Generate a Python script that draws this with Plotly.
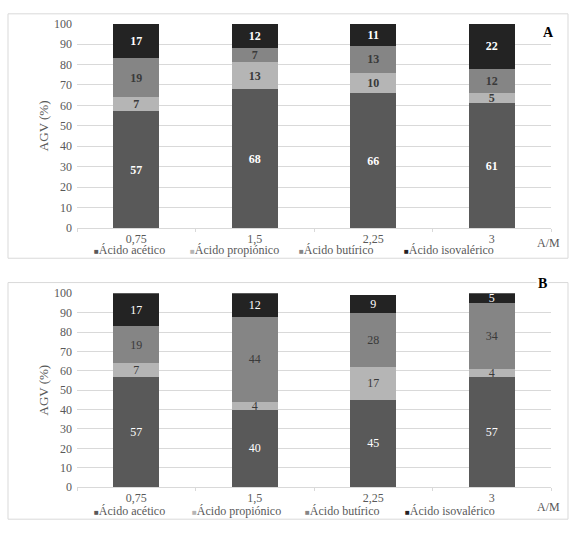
## ----------- imports ----------- ##
import plotly.graph_objects as go


## ----------- data ----------- ##
CATEGORIES = ["0,75", "1,5", "2,25", "3"]
SERIES = ["Ácido acético", "Ácido propiónico", "Ácido butírico", "Ácido isovalérico"]

A_ACETICO = [57, 68, 66, 61]
A_PROPIONICO = [7, 13, 10, 5]
A_BUTIRICO = [19, 7, 13, 12]
A_ISOVALERICO = [17, 12, 11, 22]

B_ACETICO = [57, 40, 45, 57]
B_PROPIONICO = [7, 4, 17, 4]
B_BUTIRICO = [19, 44, 28, 34]
B_ISOVALERICO = [17, 12, 9, 5]

Y_TICKS = [0, 10, 20, 30, 40, 50, 60, 70, 80, 90, 100]


## ----------- styling ----------- ##
W, H = 576, 533
FONT = "Liberation Serif, Times New Roman, DejaVu Serif, serif"
GREY_TXT = "#595959"
GRID = "#d9d9d9"
COLORS = ["#595959", "#b5b5b5", "#858585", "#232323"]
LABEL_COLORS = ["white", "#3a3a3a", "#3a3a3a", "white"]


def px(x):
	return x / W


def py(y):
	return 1 - y / H


fig = go.Figure()

panels = [
	("x", "y", [A_ACETICO, A_PROPIONICO, A_BUTIRICO, A_ISOVALERICO], True),
	("x2", "y2", [B_ACETICO, B_PROPIONICO, B_BUTIRICO, B_ISOVALERICO], False),
]

for xa, ya, series_vals, bold in panels:
	for name, vals, col, tcol in zip(SERIES, series_vals, COLORS, LABEL_COLORS):
		fig.add_trace(
			go.Bar(
				x=CATEGORIES,
				y=vals,
				name=name,
				xaxis=xa,
				yaxis=ya,
				marker=dict(color=col, line=dict(width=0)),
				text=[f"<b>{v}</b>" if bold else str(v) for v in vals],
				textposition="inside",
				insidetextanchor="middle",
				textangle=0,
				constraintext="none",
				textfont=dict(family=FONT, size=12, color=tcol),
				showlegend=False,
				hoverinfo="skip",
			)
		)

axis_common = dict(
	type="category",
	showline=True,
	linecolor=GRID,
	linewidth=1,
	ticks="outside",
	tickson="boundaries",
	ticklen=3,
	tickcolor=GRID,
	ticklabelstandoff=0,
	tickfont=dict(family=FONT, size=12, color=GREY_TXT),
	showgrid=False,
)
yaxis_common = dict(
	range=[0, 100],
	tickvals=Y_TICKS,
	showgrid=True,
	gridcolor=GRID,
	gridwidth=1,
	zeroline=False,
	showline=False,
	ticks="",
	ticklabelstandoff=4,
	tickfont=dict(family=FONT, size=12, color=GREY_TXT),
	title=dict(text="AGV (%)", font=dict(family=FONT, size=13, color=GREY_TXT), standoff=2),
)

fig.update_layout(
	width=W,
	height=H,
	margin=dict(l=0, r=0, t=0, b=0),
	paper_bgcolor="white",
	plot_bgcolor="white",
	barmode="stack",
	bargap=0.61,
	uniformtext=dict(mode="show", minsize=12),
	xaxis=dict(domain=[px(77), px(551)], anchor="y", **axis_common),
	yaxis=dict(domain=[py(227), py(17)], anchor="x", **yaxis_common),
	xaxis2=dict(domain=[px(77), px(551)], anchor="y2", **axis_common),
	yaxis2=dict(domain=[py(493), py(294)], anchor="x2", **yaxis_common),
)

# panel borders
for y0, y1 in [(7, 258), (283, 526)]:
	fig.add_shape(
		type="rect", xref="paper", yref="paper",
		x0=px(8), x1=px(568), y0=py(y1), y1=py(y0),
		line=dict(color=GRID, width=1), fillcolor="rgba(0,0,0,0)",
		layer="below",
	)


def note(x, y, text, size=12, color=GREY_TXT, anchor="center", **kw):
	fig.add_annotation(
		x=px(x), y=py(y), xref="paper", yref="paper", text=text,
		xanchor=anchor, yanchor="middle", showarrow=False,
		font=dict(family=FONT, size=size, color=color), **kw,
	)


# panel letters
note(548, 26, "<b>A</b>", size=14, color="black")
note(542, 284, "<b>B</b>", size=14, color="black", bgcolor="white")

# x axis title
for yy in [242, 514]:
	note(548, yy, "A/M")

# legends, drawn as text rows under each panel
LEG_X_A = [92, 188, 297, 402]
LEG_X_B = [92, 190, 303, 403]
for leg_y, leg_xs in [(250, LEG_X_A), (518, LEG_X_B)]:
	for name, col, lx in zip(SERIES, COLORS, leg_xs):
		note(lx, leg_y, f"<span style='color:{col};font-size:8px'>■</span>{name}", anchor="left")

fig.write_html(
	"out.html",
	config={"displayModeBar": False},
	post_script="document.body.style.margin='0';document.documentElement.style.overflow='hidden';",
)
